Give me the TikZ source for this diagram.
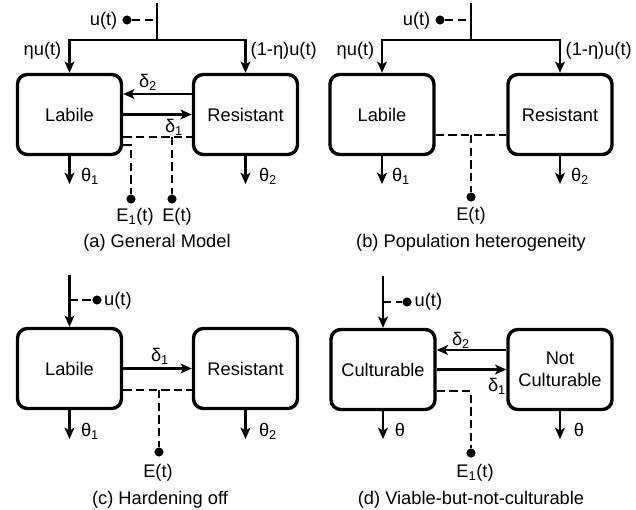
\documentclass[tikz,border=0pt]{standalone}
\usepackage{fontspec}
\setmainfont{Liberation Sans}
\usetikzlibrary{arrows.meta,calc}

\begin{document}
\begin{tikzpicture}[x=0.025cm,y=-0.025cm,
    font=\fontsize{13}{15.6}\selectfont,
    box/.style={draw,line width=2.4pt,rounded corners=7pt,minimum width=2.6cm,
      minimum height=2cm,align=center,inner sep=0pt},
    wire/.style={line width=1.5pt},
    flow/.style={wire,-{Stealth[length=8pt,width=7pt,inset=2pt]}},
    dashln/.style={line width=1.5pt,dash pattern=on 6pt off 3pt},
    dot/.style={circle,fill,inner sep=0pt,minimum size=6.5pt},
    lbl/.style={inner sep=1pt}]
  \useasboundingbox (0,0) rectangle (636,510);

  \node[box] (aL) at (69.5,114.5) {Labile};
  \node[box] (aR) at (245.5,114.5) {Resistant};
  \coordinate (aTop) at (157,3);
  \coordinate (aSplit) at (157,40);
  \node[dot] (aU) at (127,20) {};
  \node[lbl,anchor=east] (aUl) at (119,21) {u(t)};
  \node[lbl,anchor=east] (aEta) at (63,51) {ηu(t)};
  \node[lbl,anchor=west] (aEtb) at (249,51) {(1-η)u(t)};
  \node[lbl] (aD2) at (148,82) {δ\textsubscript{2}};
  \node[lbl] (aD1) at (174,127) {δ\textsubscript{1}};
  \coordinate (aJ) at (173,137);
  \coordinate (aK) at (131,145);
  \node[dot] (aE) at (172,199) {};
  \node[dot] (aE1) at (131,199) {};
  \node[lbl] (aEl) at (177,217) {E(t)};
  \node[lbl] (aE1l) at (135,217) {E\textsubscript{1}(t)};
  \coordinate (aO1) at (69.5,184);
  \coordinate (aO2) at (245.5,184);
  \node[lbl] (aT1) at (90,176) {θ\textsubscript{1}};
  \node[lbl] (aT2) at (268,176) {θ\textsubscript{2}};
  \node[lbl] (aCap) at (157,243) {(a) General Model};
  \begin{scope}
    \draw[wire] (aTop) -- (aSplit);
    \draw[dashln] (aU) -- (aU -| aTop);
    \draw[flow] (aSplit) -| (aL.north);
    \draw[flow] (aSplit) -| (aR.north);
    \draw[flow] ($(aR.west)+(0,-20.5)$) -- ($(aL.east)+(0,-20.5)$);
    \draw[flow] (aL.east) -- (aR.west);
    \draw[dashln] (aL.east |- aJ) -- (aR.west |- aJ);
    \draw[dashln] (aJ -| aE) -- (aE);
    \draw[dashln] (aL.east |- aK) -- (aK) -- (aE1);
    \draw[flow] (aL.south) -- (aO1);
    \draw[flow] (aR.south) -- (aO2);
  \end{scope}

  \node[box] (bL) at (382,114.5) {Labile};
  \node[box] (bR) at (560,114.5) {Resistant};
  \coordinate (bTop) at (471,3);
  \coordinate (bSplit) at (471,40);
  \node[dot] (bU) at (440,20) {};
  \node[lbl,anchor=east] (bUl) at (432,21) {u(t)};
  \node[lbl,anchor=east] (bEta) at (376,51) {ηu(t)};
  \node[lbl,anchor=west] (bEtb) at (564,51) {(1-η)u(t)};
  \coordinate (bJ) at (471,135);
  \node[dot] (bE) at (471,197) {};
  \node[lbl] (bEl) at (471,216) {E(t)};
  \coordinate (bO1) at (382,184);
  \coordinate (bO2) at (560,184);
  \node[lbl] (bT1) at (401,176) {θ\textsubscript{1}};
  \node[lbl] (bT2) at (580,176) {θ\textsubscript{2}};
  \node[lbl] (bCap) at (471,243) {(b) Population heterogeneity};
  \begin{scope}
    \draw[wire] (bTop) -- (bSplit);
    \draw[dashln] (bU) -- (bU -| bTop);
    \draw[flow] (bSplit) -| (bL.north);
    \draw[flow] (bSplit) -| (bR.north);
    \draw[dashln] (bL.east |- bJ) -- (bR.west |- bJ);
    \draw[dashln] (bJ) -- (bE);
    \draw[flow] (bL.south) -- (bO1);
    \draw[flow] (bR.south) -- (bO2);
  \end{scope}

  \node[box] (cL) at (69.5,368.5) {Labile};
  \node[box] (cR) at (245.5,368.5) {Resistant};
  \coordinate (cTop) at (69.5,275);
  \node[dot] (cU) at (97,300) {};
  \node[lbl,anchor=west] (cUl) at (102.5,301) {u(t)};
  \node[lbl] (cD1) at (160,356) {δ\textsubscript{1}};
  \coordinate (cJ) at (159,390);
  \node[dot] (cE) at (159,452) {};
  \node[lbl] (cEl) at (158,473) {E(t)};
  \coordinate (cO1) at (69.5,439);
  \coordinate (cO2) at (245.5,439);
  \node[lbl] (cT1) at (90,431) {θ\textsubscript{1}};
  \node[lbl] (cT2) at (268,431) {θ\textsubscript{2}};
  \node[lbl] (cCap) at (160,500) {(c) Hardening off};
  \begin{scope}
    \draw[flow] (cTop) -- (cL.north);
    \draw[dashln] (cU -| cTop) -- (cU);
    \draw[flow] (cL.east) -- (cR.west);
    \draw[dashln] (cL.east |- cJ) -- (cR.west |- cJ);
    \draw[dashln] (cJ) -- (cE);
    \draw[flow] (cL.south) -- (cO1);
    \draw[flow] (cR.south) -- (cO2);
  \end{scope}

  \node[box] (dL) at (383,369.5) {Culturable};
  \node[box] (dR) at (560,369.5) {Not\\Culturable};
  \coordinate (dTop) at (383,276);
  \node[dot] (dU) at (407,302) {};
  \node[lbl,anchor=west] (dUl) at (413,302) {u(t)};
  \node[lbl] (dD2) at (461,340) {δ\textsubscript{2}};
  \node[lbl] (dD1) at (497,386) {δ\textsubscript{1}};
  \coordinate (dK) at (471,391);
  \node[dot] (dE1) at (471,453) {};
  \node[lbl] (dE1l) at (475,473) {E\textsubscript{1}(t)};
  \coordinate (dO1) at (383,439);
  \coordinate (dO2) at (560,439);
  \node[lbl] (dT1) at (400,430) {θ};
  \node[lbl] (dT2) at (579,430) {θ};
  \node[lbl] (dCap) at (471,500) {(d) Viable-but-not-culturable};
  \begin{scope}
    \draw[flow] (dTop) -- (dL.north);
    \draw[dashln] (dU -| dTop) -- (dU);
    \draw[flow] ($(dR.west)+(0,-19.5)$) -- ($(dL.east)+(0,-19.5)$);
    \draw[flow] (dL.east) -- (dR.west);
    \draw[dashln] (dL.east |- dK) -- (dK) -- (dE1);
    \draw[flow] (dL.south) -- (dO1);
    \draw[flow] (dR.south) -- (dO2);
  \end{scope}
\end{tikzpicture}
\end{document}
